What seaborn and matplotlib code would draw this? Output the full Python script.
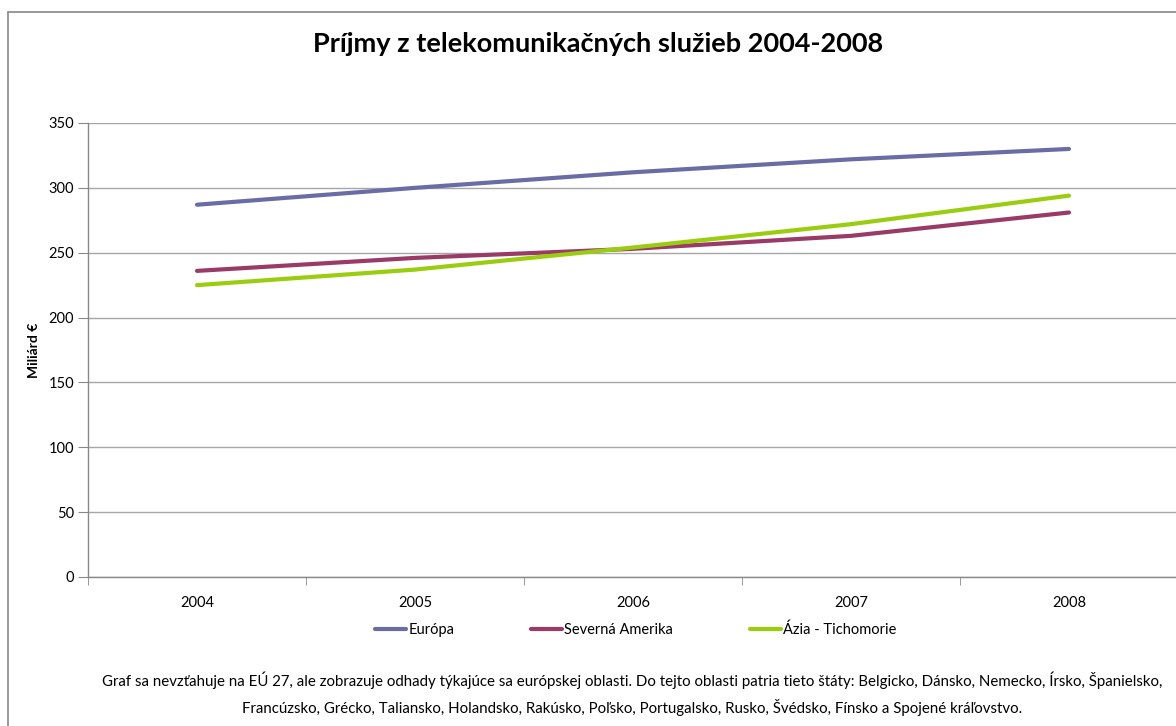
import matplotlib
matplotlib.use('Agg')
import matplotlib.pyplot as plt
import seaborn as sns
import pandas as pd
from matplotlib.lines import Line2D

years = ['2004', '2005', '2006', '2007', '2008']
europa = [287, 300, 312, 322, 330]
sev_amerika = [236, 246, 253, 263, 281]
azia = [225, 237, 254, 272, 294]
series_names = ['Európa', 'Severná Amerika', 'Ázia - Tichomorie']
colors = ['#6a6ca5', '#9a3a66', '#9acd10']

title = 'Príjmy z telekomunikačných služieb 2004-2008'
ylabel = 'Miliárd €'
note = ('Graf sa nevzťahuje na EÚ 27, ale zobrazuje odhady týkajúce sa európskej oblasti. '
        'Do tejto oblasti patria tieto štáty: Belgicko, Dánsko, Nemecko, Írsko, Španielsko,\n'
        'Francúzsko, Grécko, Taliansko, Holandsko, Rakúsko, Poľsko, Portugalsko, Rusko, '
        'Švédsko, Fínsko a Spojené kráľovstvo.')

df = pd.DataFrame({'rok': years * 3,
                   'hodnota': europa + sev_amerika + azia,
                   'seria': [s for s in series_names for _ in years]})
df['x'] = df['rok'].map({y: i for i, y in enumerate(years)})

sns.set_style('white')
plt.rcParams['font.family'] = ['Lato', 'DejaVu Sans']
plt.rcParams['text.color'] = 'black'
plt.rcParams['axes.labelcolor'] = 'black'
plt.rcParams['xtick.labelcolor'] = 'black'
plt.rcParams['ytick.labelcolor'] = 'black'

fig = plt.figure(figsize=(11.76, 7.26), dpi=100)
ax = fig.add_axes([88 / 1176, 1 - 577 / 726, 1090 / 1176, 454 / 726])

sns.lineplot(data=df, x='x', y='hodnota', hue='seria', hue_order=series_names,
             palette=colors, linewidth=3, ax=ax, legend=False)

ax.set_xlim(-0.5, 4.5)
ax.set_ylim(0, 350)
ax.set_yticks(range(0, 351, 50))
ax.set_xticks(range(len(years)))
ax.set_xticklabels(years)
ax.set_xticks([i - 0.5 for i in range(len(years) + 1)], minor=True)
ax.tick_params(axis='x', which='major', length=0, pad=14, labelsize=10.5, labelcolor='black')
ax.tick_params(axis='x', which='minor', length=6, direction='out', color='#888888', bottom=True)
ax.tick_params(axis='y', length=7, direction='out', color='#888888', pad=3, labelsize=10.5,
               labelcolor='black', left=True)
ax.yaxis.grid(True, color='#a6a6a6', linewidth=1)
ax.set_axisbelow(True)
for s in ['top', 'right']:
    ax.spines[s].set_visible(False)
for s in ['left', 'bottom']:
    ax.spines[s].set_color('#888888')
    ax.spines[s].set_linewidth(1)
ax.set_xlabel('')
ax.set_ylabel(ylabel, fontsize=10, fontweight='bold')
ax.yaxis.set_label_coords((40 - 88) / 1090, 0.5)

fig.text(598 / 1176, 1 - 44 / 726, title, ha='center', va='center',
         fontsize=19.5, fontweight='bold')

handles = [Line2D([0], [0], color=c, linewidth=3) for c in colors]
fig.legend(handles, series_names, loc='center', bbox_to_anchor=(636 / 1176, 1 - 630 / 726),
           ncol=3, frameon=False, fontsize=10.5, handlelength=2.1, handletextpad=0.15,
           columnspacing=5.3)

fig.text(632 / 1176, 1 - 694 / 726, note, ha='center', va='center',
         fontsize=10.8, linespacing=1.75)

# chart frame
fig.add_artist(Line2D([8 / 1176, 8 / 1176], [0, 1 - 12 / 726], transform=fig.transFigure,
                      color='#888888', linewidth=1.2))
fig.add_artist(Line2D([8 / 1176, 1], [1 - 12 / 726, 1 - 12 / 726], transform=fig.transFigure,
                      color='#888888', linewidth=1.2))

fig.savefig('out.png', dpi=100)
